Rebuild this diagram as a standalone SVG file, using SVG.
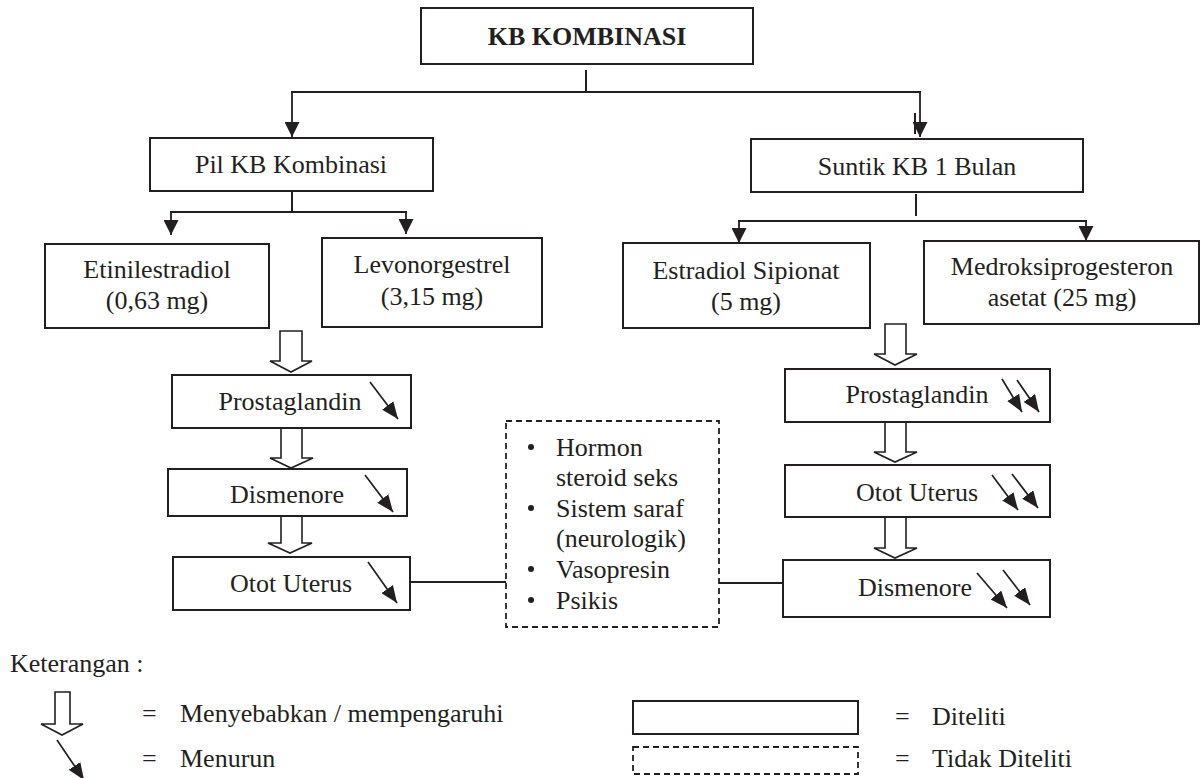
<svg xmlns="http://www.w3.org/2000/svg" width="1200" height="778" viewBox="0 0 1200 778">
<style>
  text { font-family: "Liberation Serif", "Times New Roman", serif; font-size: 26px; fill: #231f20; }
  .b { font-weight: bold; }
  .m { text-anchor: middle; }
  .box { fill: #fff; stroke: #231f20; stroke-width: 2; }
  .dash { fill: #fff; stroke: #231f20; stroke-width: 1.8; stroke-dasharray: 6 4; }
  .ln { fill: none; stroke: #231f20; stroke-width: 2; }
  .dn { fill: none; stroke: #231f20; stroke-width: 1.8; marker-end: url(#ah); }
  .sm { fill: none; stroke: #231f20; stroke-width: 1.7; marker-end: url(#ahs); }
  .hol { fill: #fff; stroke: #231f20; stroke-width: 1.6; stroke-linejoin: miter; }
</style>
<defs>
  <marker id="ah" viewBox="0 0 15 15" refX="15" refY="7.5" markerWidth="15" markerHeight="15" markerUnits="userSpaceOnUse" orient="auto">
    <path d="M0,0 L15,7.5 L0,15 z" fill="#231f20"/>
  </marker>
  <marker id="ahs" viewBox="0 0 17 14" refX="17" refY="7" markerWidth="17" markerHeight="14" markerUnits="userSpaceOnUse" orient="auto">
    <path d="M0,0 L17,7 L0,14 z" fill="#231f20"/>
  </marker>
</defs>

<g id="connectors">
  <line class="ln" x1="586" y1="70" x2="586" y2="92"/>
  <line class="ln" x1="291" y1="92" x2="921" y2="92"/>
  <line class="dn" x1="292" y1="92" x2="292" y2="137"/>
  <line class="dn" x1="920" y1="92" x2="920" y2="137"/>
  <line class="ln" x1="915" y1="113" x2="915" y2="134" stroke-width="1.2"/>
  <line class="ln" x1="292" y1="191" x2="292" y2="212"/>
  <line class="ln" x1="170" y1="212" x2="407" y2="212"/>
  <line class="dn" x1="171" y1="212" x2="171" y2="235"/>
  <line class="dn" x1="406" y1="212" x2="406" y2="234"/>
  <line class="ln" x1="916" y1="194" x2="916" y2="216"/>
  <line class="ln" x1="738" y1="221" x2="1087" y2="221"/>
  <line class="dn" x1="739" y1="221" x2="739" y2="243"/>
  <line class="dn" x1="1086" y1="221" x2="1086" y2="241"/>
  <line class="ln" x1="410" y1="582" x2="506" y2="582"/>
  <line class="ln" x1="719" y1="583" x2="784" y2="583"/>
  <path class="hol" d="M280,331 L302,331 L302,361 L312,361 L291,372 L270,361 L280,361 Z"/>
  <path class="hol" d="M281,428 L302,428 L302,458 L313,458 L291,468 L270,458 L281,458 Z"/>
  <path class="hol" d="M281,516 L302,516 L302,543 L312,543 L290,553 L268,543 L281,543 Z"/>
  <path class="hol" d="M885,324 L906,324 L906,354 L917,354 L895,365 L874,354 L885,354 Z"/>
  <path class="hol" d="M885,422 L906,422 L906,452 L917,452 L895,462 L874,452 L885,452 Z"/>
  <path class="hol" d="M885,517 L906,517 L906,548 L917,548 L895,558 L874,548 L885,548 Z"/>
</g>

<g id="kb-kombinasi">
  <rect class="box" x="421" y="8" width="332" height="56"/>
  <text class="b m" x="587" y="45">KB KOMBINASI</text>
</g>
<g id="pil-kb">
  <rect class="box" x="150" y="138" width="283" height="53"/>
  <text class="m" x="291" y="173">Pil KB Kombinasi</text>
</g>
<g id="suntik-kb">
  <rect class="box" x="751" y="139" width="332" height="53"/>
  <text class="m" x="917" y="175">Suntik KB 1 Bulan</text>
</g>
<g id="etinilestradiol">
  <rect class="box" x="45" y="244" width="224" height="84"/>
  <text class="m" x="157" y="278">Etinilestradiol</text>
  <text class="m" x="157" y="309">(0,63 mg)</text>
</g>
<g id="levonorgestrel">
  <rect class="box" x="322" y="238" width="220" height="89"/>
  <text class="m" x="432" y="273">Levonorgestrel</text>
  <text class="m" x="432" y="305">(3,15 mg)</text>
</g>
<g id="estradiol">
  <rect class="box" x="623" y="243" width="247" height="85"/>
  <text class="m" x="746" y="279">Estradiol Sipionat</text>
  <text class="m" x="746" y="310">(5 mg)</text>
</g>
<g id="medroksi">
  <rect class="box" x="924" y="241" width="275" height="83"/>
  <text class="m" x="1062" y="275">Medroksiprogesteron</text>
  <text class="m" x="1062" y="306">asetat (25 mg)</text>
</g>
<g id="prostaglandin-l">
  <rect class="box" x="172" y="375" width="239" height="53"/>
  <text class="m" x="290" y="410">Prostaglandin</text>
  <line class="sm" x1="370" y1="382" x2="398" y2="419"/>
</g>
<g id="dismenore-l">
  <rect class="box" x="168" y="469" width="239" height="47"/>
  <text class="m" x="287" y="503">Dismenore</text>
  <line class="sm" x1="365" y1="475" x2="393" y2="512"/>
</g>
<g id="otot-l">
  <rect class="box" x="173" y="557" width="237" height="53"/>
  <text class="m" x="291" y="592">Otot Uterus</text>
  <line class="sm" x1="368" y1="562" x2="397" y2="603"/>
</g>
<g id="faktor">
  <rect class="dash" x="506" y="421" width="213" height="206"/>
  <circle cx="531" cy="447" r="3" fill="#231f20"/>
  <circle cx="531" cy="508" r="3" fill="#231f20"/>
  <circle cx="531" cy="569" r="3" fill="#231f20"/>
  <circle cx="531" cy="600" r="3" fill="#231f20"/>
  <text x="556" y="456">Hormon</text>
  <text x="556" y="486">steroid seks</text>
  <text x="556" y="517">Sistem saraf</text>
  <text x="556" y="547">(neurologik)</text>
  <text x="556" y="578">Vasopresin</text>
  <text x="556" y="609">Psikis</text>
</g>
<g id="prostaglandin-r">
  <rect class="box" x="785" y="369" width="265" height="53"/>
  <text class="m" x="917" y="403">Prostaglandin</text>
  <line class="sm" x1="1002" y1="379" x2="1022" y2="412"/>
  <line class="sm" x1="1017" y1="380" x2="1039" y2="412"/>
</g>
<g id="otot-r">
  <rect class="box" x="785" y="465" width="265" height="52"/>
  <text class="m" x="917" y="501">Otot Uterus</text>
  <line class="sm" x1="992" y1="475" x2="1018" y2="510"/>
  <line class="sm" x1="1012" y1="474" x2="1038" y2="508"/>
</g>
<g id="dismenore-r">
  <rect class="box" x="783" y="560" width="267" height="57"/>
  <text class="m" x="915" y="596">Dismenore</text>
  <line class="sm" x1="977" y1="573" x2="1007" y2="608"/>
  <line class="sm" x1="1003" y1="570" x2="1030" y2="605"/>
</g>

<g id="legend">
  <text x="10" y="672">Keterangan :</text>
  <path class="hol" d="M55,692 L70,692 L70,724 L83,724 L62,735 L41,724 L55,724 Z"/>
  <line class="sm" x1="57" y1="740" x2="84" y2="780"/>
  <text x="142" y="722">=</text>
  <text x="180" y="722">Menyebabkan / mempengaruhi</text>
  <text x="142" y="767">=</text>
  <text x="180" y="767">Menurun</text>
  <rect class="box" x="633" y="701" width="225" height="33"/>
  <rect class="dash" x="633" y="747" width="225" height="27"/>
  <text x="895" y="725">=</text>
  <text x="932" y="725">Diteliti</text>
  <text x="895" y="767">=</text>
  <text x="932" y="767">Tidak Diteliti</text>
</g>
</svg>
